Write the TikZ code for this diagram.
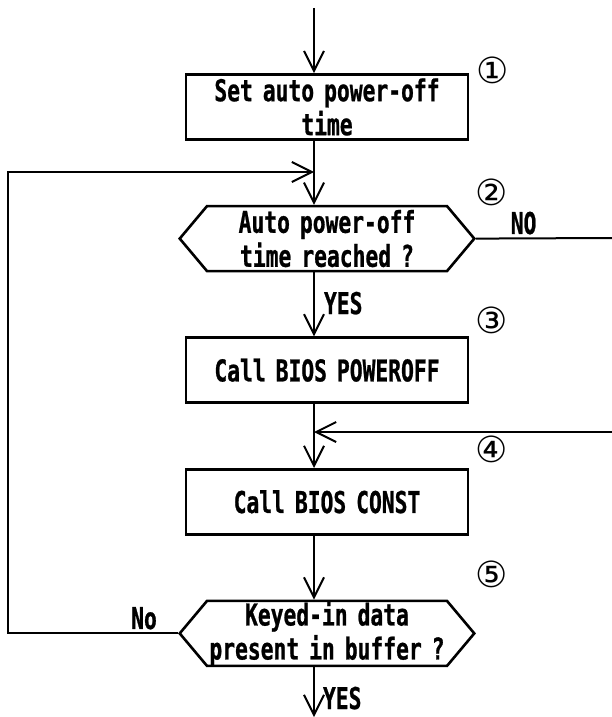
\documentclass[tikz,border=0pt]{standalone}
\usepackage{fontspec}
\newfontfamily\flowfont{DejaVu Sans Mono}[FakeStretch=0.71, BoldFeatures={FakeBold=0.8}]
\newfontfamily\circfont{DejaVu Sans}
\usetikzlibrary{positioning,shapes.symbols,arrows.meta}

\begin{document}
\begin{tikzpicture}[
    x=1pt, y=-1pt,
    font=\flowfont\bfseries\fontsize{30}{34}\selectfont,
    node distance=64pt,
    stepbox/.style={rectangle, draw, line width=2.6pt, minimum width=282pt,
        minimum height=65pt, text width=270pt, align=center, inner sep=0pt},
    decision/.style={signal, signal to=west and east, signal from=nowhere,
        signal pointer angle=100, draw, line width=2.6pt, minimum width=282pt,
        minimum height=65pt, text width=240pt, align=center, inner sep=0pt},
    flowline/.style={line width=2pt},
    flow/.style={flowline, -{Straight Barb[length=20pt, width=20pt, line width=2pt]}},
    stepno/.style={font=\circfont\fontsize{36}{36}\selectfont},
]
\useasboundingbox (0,0) rectangle (612,717);

\node[stepbox] (settime) at (327,107) {Set auto power-off\\time};
\node[decision, below=of settime] (reached) {Auto power-off\\time reached ?};
\node[stepbox, below=of reached] (poweroff) {Call BIOS POWEROFF};
\node[stepbox, below=of poweroff] (const) {Call BIOS CONST};
\node[decision, below=of const] (keyed) {Keyed-in data\\present in buffer ?};

\node[stepno] (no1) at (493,70) {①};
\node[stepno] (no2) at (492,192) {②};
\node[stepno] (no3) at (492,320) {③};
\node[stepno] (no4) at (492,449) {④};
\node[stepno] (no5) at (492,574) {⑤};

\coordinate (start) at (314,8);
\coordinate (exit) at (314,717);
\coordinate (loop) at (8,172);
\coordinate (noout) at (612,238);
\coordinate (rejoin) at (612,432);

\draw[flow] (start) -- (settime.north -| start);
\draw[flow] (settime.south -| start) -- (reached.north -| start);
\draw[flow] (reached.south -| start) -- (poweroff.north -| start)
    node[pos=0.48, right, inner sep=9pt] {YES};
\draw[flow] (poweroff.south -| start) -- (const.north -| start);
\draw[flow] (const.south -| start) -- (keyed.north -| start);
\draw[flow] (keyed.south -| start) -- (exit)
    node[pos=0.62, right, inner sep=8pt] {YES};

% loop back when no key is waiting
\draw[flow] (keyed.west) -- (keyed.west -| loop)
    node[pos=0.2, above, inner sep=3pt] {No}
    -- (loop) -- (loop -| start);

% off-page branch
\draw[flowline] (reached.east) -- (noout)
    node[pos=0.35, above, inner sep=3pt] {NO};
\draw[flow] (rejoin) -- (rejoin -| start);

\end{tikzpicture}
\end{document}
